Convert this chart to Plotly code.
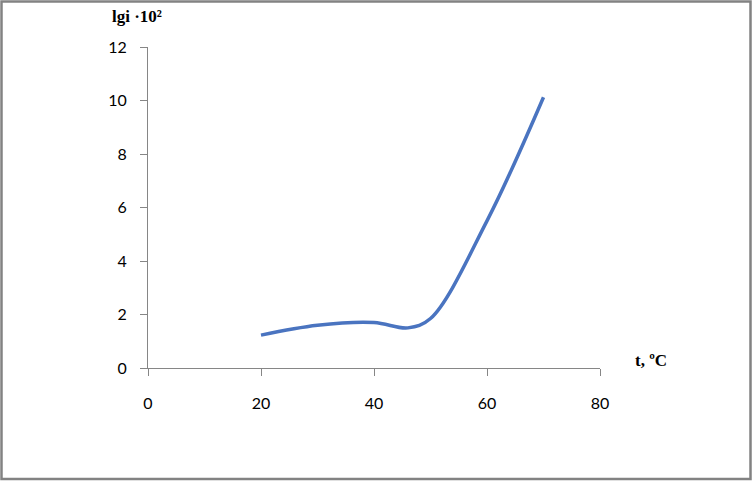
import plotly.graph_objects as go

# data
t_vals = [20, 30, 40, 46, 50, 60, 70]
lgi_vals = [1.23, 1.6, 1.7, 1.5, 1.85, 5.5, 10.12]
x_ticks = [0, 20, 40, 60, 80]
y_ticks = [0, 2, 4, 6, 8, 10, 12]
y_title = "lgi ·10²"
x_title = "t, ºC"

W, H = 753, 481
L, R, T, B = 148, 153, 47, 113
pw, ph = W - L - R, H - T - B

def px(x):
    return (x - L) / pw

def py(y):
    return (H - B - y) / ph

fig = go.Figure()
fig.add_trace(go.Scatter(
    x=t_vals, y=lgi_vals, mode="lines",
    line=dict(color="#4A74C0", width=3.5, shape="spline", smoothing=1.0),
    showlegend=False, hoverinfo="skip"))

axis_common = dict(showgrid=False, zeroline=False, showline=True, linecolor="#868686",
                   linewidth=1, ticks="outside", ticklen=7, tickcolor="#868686",
                   tickfont=dict(family="Lato, Carlito, Calibri, sans-serif", size=16, color="#000000"))

fig.update_layout(
    width=W, height=H,
    margin=dict(l=L, r=R, t=T, b=B, pad=0),
    paper_bgcolor="white", plot_bgcolor="white",
    xaxis=dict(range=[0, 80], tickvals=x_ticks, ticklabelstandoff=14, **axis_common),
    yaxis=dict(range=[0, 12], tickvals=y_ticks, ticklabelstandoff=10, **axis_common),
    annotations=[
        dict(text="<b>" + y_title + "</b>", xref="paper", yref="paper",
             x=px(110), y=py(17), xanchor="left", yanchor="middle", showarrow=False,
             font=dict(family="Liberation Serif, Times New Roman, serif", size=17, color="#000")),
        dict(text="<b>" + x_title + "</b>", xref="paper", yref="paper",
             x=px(633), y=py(360), xanchor="left", yanchor="middle", showarrow=False,
             font=dict(family="Liberation Serif, Times New Roman, serif", size=17, color="#000")),
    ],
    shapes=[
        dict(type="rect", xref="paper", yref="paper",
             x0=px(1.5), x1=px(750.5), y0=py(1.5), y1=py(479),
             line=dict(color="#828282", width=2.5), layer="above"),
    ],
)

fig.write_html("out.html", config={"displayModeBar": False},
               post_script="document.body.style.margin='0';document.body.style.padding='0';")
